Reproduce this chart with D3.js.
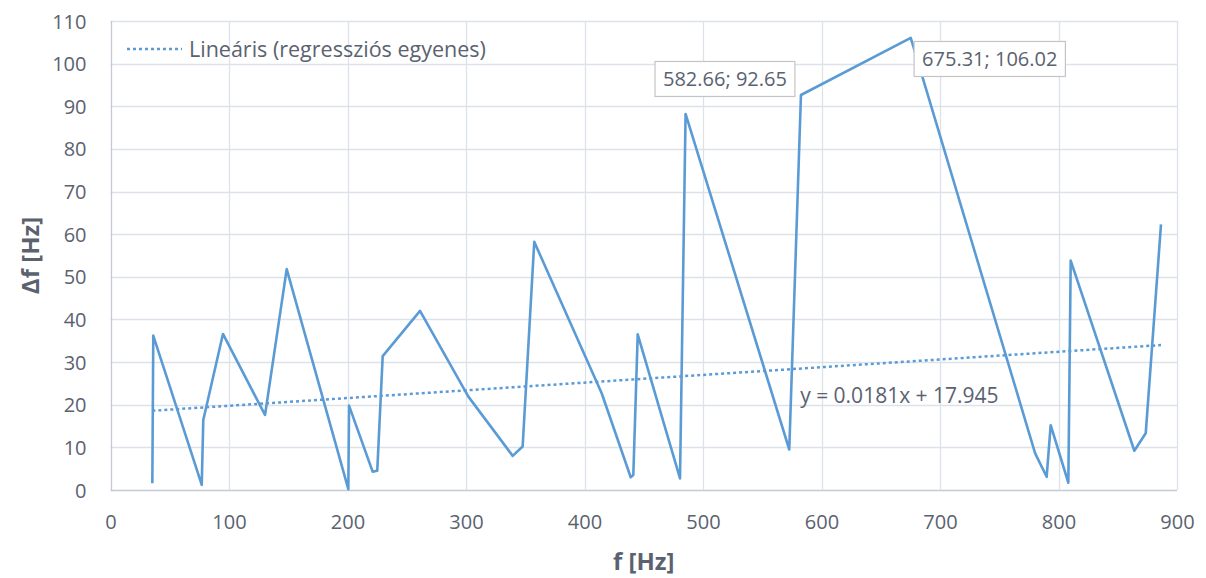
<!DOCTYPE html>
<html>
<head>
<meta charset="utf-8">
<script src="https://cdn.jsdelivr.net/npm/d3@7"></script>
<style>
  html, body { margin: 0; padding: 0; background: #fff; }
  svg { display: block; }
  text { font-family: "Open Sans", "Noto Sans", sans-serif; fill: #5a6270; }
</style>
</head>
<body>
<svg id="chart" width="1206" height="578"></svg>
<script>
// Data
const freq = [35.3, 36.1, 77, 78.3, 94.9, 130.4, 148.7, 200.7, 201.3, 221.2, 225.1, 229.7, 261.2, 302, 339.4, 347.8, 357.6, 414.5, 439, 441.2, 444.9, 480.6, 485.3, 572.8, 582.66, 675.31, 780.3, 790, 793.4, 808.3, 810.3, 864, 873.6, 886.5];
const deltaF = [1.6, 36.2, 1.2, 16.4, 36.6, 17.6, 51.8, 0.2, 19.8, 4.3, 4.5, 31.4, 42.0, 21.9, 8.0, 10.2, 58.2, 22.7, 3.0, 3.5, 36.5, 2.7, 88.2, 9.5, 92.65, 106.02, 8.6, 3.1, 15.2, 1.7, 53.8, 9.2, 13.3, 62.3];
const xTicks = [0, 100, 200, 300, 400, 500, 600, 700, 800, 900];
const yTicks = [0, 10, 20, 30, 40, 50, 60, 70, 80, 90, 100, 110];
const trendSlope = 0.0181;
const trendIntercept = 17.945;
const trendLabel = "y = 0.0181x + 17.945";
const legendLabel = "Lineáris (regressziós egyenes)";
const xTitle = "f [Hz]";
const yTitle = "Δf [Hz]";
const labelledPoints = [24, 25]; // indices with data labels

(function () {
const svg = d3.select("#chart");
const pL = 110.5, pR = 1177, pT = 21, pB = 490;
const x = d3.scaleLinear().domain([0, 900]).range([pL, pR]);
const y = d3.scaleLinear().domain([0, 110]).range([pB, pT]);
const lineColor = "#5b9bd5";
const gridColor = "#dde2ea";

// gridlines
svg.append("g").selectAll("line").data(yTicks).join("line")
  .attr("x1", pL).attr("x2", pR)
  .attr("y1", d => Math.round(y(d)) + 0.5).attr("y2", d => Math.round(y(d)) + 0.5)
  .attr("stroke", d => d === 0 ? "#c3cad6" : gridColor).attr("stroke-width", 1.3);
svg.append("g").selectAll("line").data(xTicks).join("line")
  .attr("y1", pT).attr("y2", pB)
  .attr("x1", d => Math.round(x(d)) + 0.5).attr("x2", d => Math.round(x(d)) + 0.5)
  .attr("stroke", d => d === 0 ? "#c3cad6" : gridColor).attr("stroke-width", 1.3);

// axes (labels only)
const xAxis = d3.axisBottom(x).tickValues(xTicks).tickSize(0).tickPadding(0);
const gx = svg.append("g").attr("transform", `translate(0,${pB})`).call(xAxis);
gx.select(".domain").remove();
gx.selectAll("text").attr("y", 39).attr("dy", 0).style("font-size", "20px").attr("fill", "#5a6270");

const yAxis = d3.axisLeft(y).tickValues(yTicks).tickSize(0).tickPadding(0);
const gy = svg.append("g").attr("transform", `translate(${pL},0)`).call(yAxis);
gy.select(".domain").remove();
gy.selectAll("text").attr("x", -24).attr("dy", "0.35em").style("font-size", "20px").attr("fill", "#5a6270");

// data line
const pts = freq.map((f, i) => [f, deltaF[i]]);
const line = d3.line().x(d => x(d[0])).y(d => y(d[1]));
svg.append("path").datum(pts)
  .attr("d", line).attr("fill", "none")
  .attr("stroke", lineColor).attr("stroke-width", 2.6)
  .attr("stroke-linejoin", "round");

// trendline
const xMin = d3.min(freq), xMax = d3.max(freq);
const trend = [[xMin, trendSlope * xMin + trendIntercept], [xMax, trendSlope * xMax + trendIntercept]];
svg.append("path").datum(trend)
  .attr("d", line).attr("fill", "none")
  .attr("stroke", lineColor).attr("stroke-width", 2.5)
  .attr("stroke-dasharray", "3,3");

// trend label
svg.append("text").attr("x", x(582)).attr("y", y(22.2))
  .attr("dy", "0.35em").style("font-size", "21px").text(trendLabel);

// data labels
const offsets = {24: [-76, -16], 25: [79, 21]};
labelledPoints.forEach(i => {
  const cx = x(freq[i]) + offsets[i][0];
  const cy = y(deltaF[i]) + offsets[i][1];
  const g = svg.append("g");
  const t = g.append("text").attr("x", cx).attr("y", cy).attr("dy", "0.35em")
    .attr("text-anchor", "middle").style("font-size", "20px")
    .text(`${freq[i].toFixed(2)}; ${deltaF[i].toFixed(2)}`);
  const bb = t.node().getBBox();
  g.insert("rect", "text")
    .attr("x", bb.x - 8).attr("y", cy - 17.5)
    .attr("width", bb.width + 16).attr("height", 35)
    .attr("fill", "#fff").attr("stroke", "#c4c4c4").attr("stroke-width", 1.2);
});

// legend
svg.append("line").attr("x1", 127).attr("x2", 182).attr("y1", 49).attr("y2", 49)
  .attr("stroke", lineColor).attr("stroke-width", 2.5).attr("stroke-dasharray", "3,3");
svg.append("text").attr("x", 189).attr("y", 49).attr("dy", "0.35em")
  .style("font-size", "21.5px").text(legendLabel);

// axis titles
svg.append("text").attr("x", x(450)).attr("y", 562).attr("dy", "0.35em")
  .attr("text-anchor", "middle").style("font-size", "24px").style("font-weight", "bold")
  .text(xTitle);
svg.append("text").attr("transform", `translate(31,${(pT + pB) / 2}) rotate(-90)`)
  .attr("dy", "0.35em").attr("text-anchor", "middle")
  .style("font-size", "24px").style("font-weight", "bold").text(yTitle);
})();
</script>
</body>
</html>
